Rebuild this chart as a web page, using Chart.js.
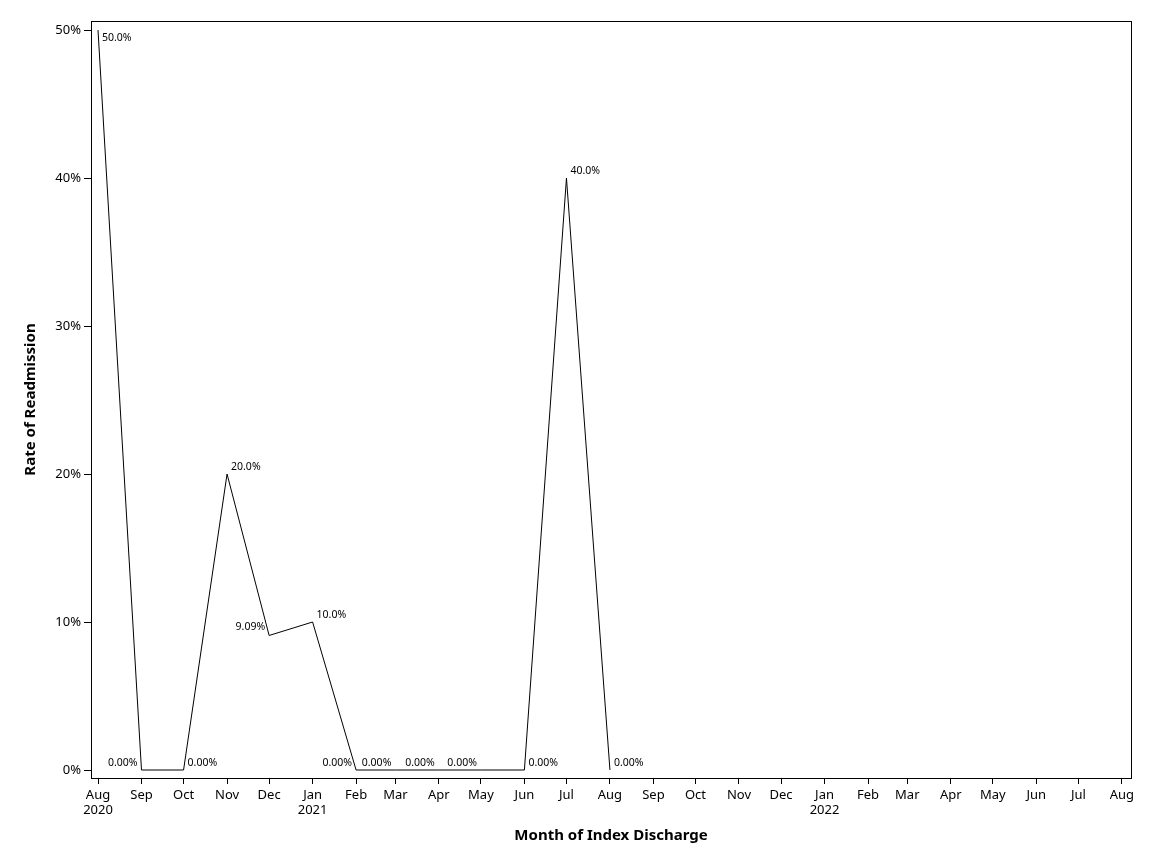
<!DOCTYPE html>
<html>
<head>
<meta charset="utf-8">
<script src="https://cdn.jsdelivr.net/npm/chart.js@4.4.1/dist/chart.umd.min.js"></script>
<style>
  html, body { margin: 0; padding: 0; background: #fff; }
  #wrap { width: 1152px; height: 864px; }
</style>
</head>
<body>
<div id="wrap"><canvas id="chart"></canvas></div>
<script>
// months of index discharge (data) and rate of readmission in %
var months = ['2020-08','2020-09','2020-10','2020-11','2020-12','2021-01','2021-02',
              '2021-03','2021-04','2021-05','2021-06','2021-07','2021-08'];
var rates = [50.0, 0, 0, 20.0, 9.09, 10.0, 0, 0, 0, 0, 0, 40.0, 0];
var rateLabels = ['50.0%','0.00%','0.00%','20.0%','9.09%','10.0%','0.00%',
                  '0.00%','0.00%','0.00%','0.00%','40.0%','0.00%'];

// axis ticks
var tickMonths = ['2020-08','2020-09','2020-10','2020-11','2020-12','2021-01','2021-02',
                  '2021-03','2021-04','2021-05','2021-06','2021-07','2021-08','2021-09',
                  '2021-10','2021-11','2021-12','2022-01','2022-02','2022-03','2022-04',
                  '2022-05','2022-06','2022-07','2022-08'];
var tickLabels = [['Aug','2020'],'Sep','Oct','Nov','Dec',['Jan','2021'],'Feb','Mar','Apr','May',
                  'Jun','Jul','Aug','Sep','Oct','Nov','Dec',['Jan','2022'],'Feb','Mar','Apr',
                  'May','Jun','Jul','Aug'];
var yTicks = [0, 10, 20, 30, 40, 50];

// day offset from the first month
function dayOf(m) {
  var p = m.split('-');
  return (Date.UTC(+p[0], +p[1] - 1, 1) - Date.UTC(2020, 7, 1)) / 86400000;
}

// where each value label sits relative to its point
var labelSide = ['rb','la','ra','ra','l','ra','la','la','la','la','ra','ra','ra'];

var FONT = '"Noto Sans", "DejaVu Sans", sans-serif';

var frame = {
  id: 'frame',
  afterDraw: function (chart) {
    var a = chart.chartArea, ctx = chart.ctx;
    ctx.save();
    ctx.strokeStyle = '#000';
    ctx.lineWidth = 1;
    ctx.strokeRect(Math.round(a.left) + 0.5, Math.round(a.top) + 0.5,
                   Math.round(a.right - a.left), Math.round(a.bottom - a.top));
    ctx.restore();
  }
};

var valueLabels = {
  id: 'valueLabels',
  afterDatasetsDraw: function (chart) {
    var ctx = chart.ctx, meta = chart.getDatasetMeta(0);
    ctx.save();
    ctx.font = '10.5px ' + FONT;
    ctx.fillStyle = '#000';
    meta.data.forEach(function (pt, i) {
      var s = labelSide[i];
      var x = pt.x, y = pt.y;
      ctx.textAlign = s.charAt(0) === 'l' ? 'right' : 'left';
      x += s.charAt(0) === 'l' ? -4 : 4;
      if (s.charAt(1) === 'a') { ctx.textBaseline = 'bottom'; y -= 2; }
      else if (s.charAt(1) === 'b') { ctx.textBaseline = 'middle'; y += 8; }
      else { ctx.textBaseline = 'middle'; y -= 8; }
      ctx.fillText(rateLabels[i], x, y);
    });
    ctx.restore();
  }
};

new Chart(document.getElementById('chart'), {
  type: 'line',
  data: {
    datasets: [{
      data: months.map(function (m, i) { return { x: dayOf(m), y: rates[i] }; }),
      borderColor: '#000',
      borderWidth: 1,
      pointRadius: 0,
      tension: 0,
      fill: false
    }]
  },
  options: {
    responsive: true,
    maintainAspectRatio: false,
    animation: false,
    layout: { padding: { top: 21, right: 21, left: 18, bottom: 15 } },
    plugins: { legend: { display: false }, tooltip: { enabled: false } },
    scales: {
      x: {
        type: 'linear',
        min: -5,
        max: 736.5,
        afterBuildTicks: function (scale) {
          scale.ticks = tickMonths.map(function (m) { return { value: dayOf(m) }; });
        },
        afterFit: function (scale) { scale.height = 71; },
        grid: { display: true, drawOnChartArea: false, drawTicks: true, tickLength: 6, color: '#000' },
        border: { display: true, color: '#000' },
        ticks: {
          autoSkip: false,
          maxRotation: 0,
          padding: 3,
          color: '#000',
          font: { family: FONT, size: 13 },
          callback: function (v, i) { return tickLabels[i]; }
        },
        title: {
          display: true,
          text: 'Month of Index Discharge',
          color: '#000',
          font: { family: FONT, size: 15, weight: 'bold' },
          padding: { top: 4, bottom: 4 }
        }
      },
      y: {
        min: -0.54,
        max: 50.61,
        afterBuildTicks: function (scale) {
          scale.ticks = yTicks.map(function (v) { return { value: v }; });
        },
        afterFit: function (scale) { scale.width = 73; },
        grid: { display: true, drawOnChartArea: false, drawTicks: true, tickLength: 7, color: '#000' },
        border: { display: true, color: '#000' },
        ticks: {
          padding: 3,
          color: '#000',
          font: { family: FONT, size: 13 },
          callback: function (v) { return v + '%'; }
        },
        title: {
          display: true,
          text: 'Rate of Readmission',
          color: '#000',
          font: { family: FONT, size: 15, weight: 'bold' },
          padding: { bottom: 4 }
        }
      }
    }
  },
  plugins: [frame, valueLabels]
});
</script>
</body>
</html>
